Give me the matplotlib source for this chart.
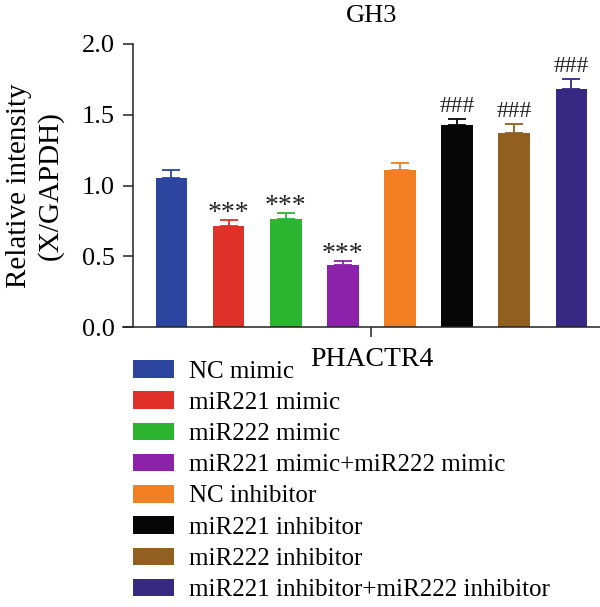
import numpy as np
import matplotlib
matplotlib.use("Agg")
import matplotlib.pyplot as plt

plt.rcParams['font.family'] = ['Liberation Serif', 'DejaVu Serif']

# Datos
groups = ['NC mimic', 'miR221 mimic', 'miR222 mimic', 'miR221 mimic+miR222 mimic',
          'NC inhibitor', 'miR221 inhibitor', 'miR222 inhibitor',
          'miR221 inhibitor+miR222 inhibitor']
means = [1.055, 0.717, 0.762, 0.435, 1.109, 1.430, 1.373, 1.684]
errs = [0.054, 0.038, 0.041, 0.033, 0.047, 0.038, 0.062, 0.066]
marks = ['', '***', '***', '***', '', '###', '###', '###']
colors = ['#2c46a0', '#e0302a', '#2db531', '#8c22aa',
          '#f28022', '#060606', '#915f1f', '#372882']

fig = plt.figure(figsize=(6, 6.07), dpi=100)
ax = fig.add_axes([123 / 600, 280 / 607, 477 / 600, 283 / 607])

x = np.arange(len(means))
bars = ax.bar(x, means, width=0.553, color=colors, label=groups, zorder=2)
for xi, m, e, c in zip(x, means, errs, colors):
    ax.errorbar(xi, m, yerr=[[0], [e]], fmt='none', ecolor=c,
                elinewidth=1.3, capsize=6.2, capthick=1.3, zorder=1)

# Marcas de significancia
for xi, m, e, t in zip(x, means, errs, marks):
    if t == '***':
        ax.text(xi, m + e, t, ha='center', va='baseline', fontsize=20, color='#222222')
    elif t == '###':
        ax.text(xi, m + e + 0.05, t, ha='center', va='baseline', fontsize=17, color='#222222')

ax.set_xlim(-0.848, 7.5)
ax.set_ylim(0, 2.0)
ax.set_yticks([0, 0.5, 1.0, 1.5, 2.0])
ax.set_yticklabels(['0.0', '0.5', '1.0', '1.5', '2.0'])
ax.set_xticks([3.5])
ax.set_xticklabels([''])
ax.spines['top'].set_visible(False)
ax.spines['right'].set_visible(False)
ax.spines['left'].set_position(('data', -0.668))
for s in ['left', 'bottom']:
    ax.spines[s].set_linewidth(1.1)
    ax.spines[s].set_color('#222222')
ax.tick_params(axis='both', length=7.2, width=1.1, color='#222222', labelsize=19, pad=6)

ax.set_ylabel('Relative intensity\n(X/GAPDH)', fontsize=21, linespacing=1.25)
ax.yaxis.set_label_coords(-0.124, 0.5)

fig.text(371.7 / 600, 1 - 16 / 607, 'GH3', ha='center', va='center', fontsize=19)
fig.text(371.7 / 600, 1 - 360 / 607, 'PHACTR4', ha='center', va='center', fontsize=20)

fig.legend(handles=bars.patches, labels=groups, loc='upper left',
           bbox_to_anchor=(133 / 600, 1 - 360 / 607), frameon=False,
           fontsize=18, borderpad=0, borderaxespad=0, handlelength=1.65,
           handleheight=0.7, handletextpad=0.6, labelspacing=0.35)

fig.savefig('out.png', dpi=100)
